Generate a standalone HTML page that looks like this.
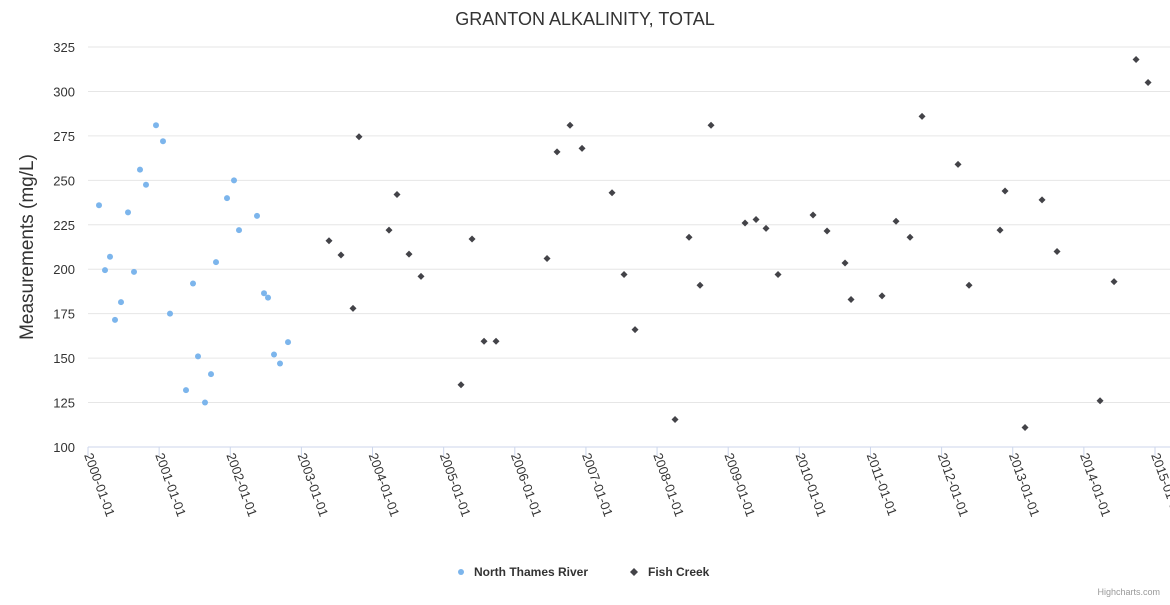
<!DOCTYPE html>
<html><head><meta charset="utf-8"><style>
body{margin:0;background:#fff;font-family:"Liberation Sans","DejaVu Sans",sans-serif}
</style></head><body>
<svg id="c" width="1170" height="600" xmlns="http://www.w3.org/2000/svg">
<text x="585" y="25" text-anchor="middle" font-size="18" fill="#333">GRANTON ALKALINITY, TOTAL</text>
<text transform="translate(33,247) rotate(-90)" text-anchor="middle" font-size="19" fill="#333">Measurements (mg/L)</text>
<g id="grid"></g><g id="xt"></g><g id="marks"></g>
<g>
<g><circle cx="461" cy="572" r="3" fill="#7cb5ec"/><text x="474" y="576" font-size="12" font-weight="bold" fill="#333">North Thames River</text></g>
<g><path d="M634 568 L638 572 L634 576 L630 572Z" fill="#434348"/><text x="648" y="576" font-size="12" font-weight="bold" fill="#333">Fish Creek</text></g>
</g>
<text x="1160" y="595" text-anchor="end" font-size="9" fill="#999">Highcharts.com</text>
</svg>
<script>
const yTicks=[100,125,150,175,200,225,250,275,300,325];
const xTickYears=[2000,2001,2002,2003,2004,2005,2006,2007,2008,2009,2010,2011,2012,2013,2014,2015];
const thamesX=[99,105,110,115,121,128,134,140,146,156,163,170,186,193,198,205,211,216,227,234,239,257,264,268,274,280,288].map(p=>2000+(p-88)/71.13);
const thamesY=[236,199.5,207,171.5,181.5,232,198.5,256,247.5,281,272,175,132,192,151,125,141,204,240,250,222,230,186.5,184,152,147,159];
const fishX=[329,341,353,359,389,397,409,421,461,472,484,496,547,557,570,582,612,624,635,675,689,700,711,745,756,766,778,813,827,845,851,882,896,910,922,958,969,1000,1005,1025,1042,1057,1100,1114,1136,1148].map(p=>2000+(p-88)/71.13);
const fishY=[216,208,178,274.5,222,242,208.5,196,135,217,159.5,159.5,206,266,281,268,243,197,166,115.5,218,191,281,226,228,223,197,230.5,221.5,203.5,183,185,227,218,286,259,191,222,244,111,239,210,126,193,318,305];
const NS="http://www.w3.org/2000/svg";
const L=88,R=1155,T=47,B=447;
const xs=v=>L+(v-2000)/15*(R-L);
const ys=v=>B-(v-100)/225*(B-T);
function mk(t,a,p){const e=document.createElementNS(NS,t);for(const k in a)e.setAttribute(k,a[k]);p.appendChild(e);return e;}
const g=document.getElementById('grid'),xt=document.getElementById('xt'),m=document.getElementById('marks');
yTicks.forEach(v=>{
 const l=mk('line',{x1:L,x2:1170,y1:ys(v),y2:ys(v),stroke:v===100?'#ccd6eb':'#e6e6e6'},g);
 
 
 const t=mk('text',{x:75,y:ys(v)+5,'text-anchor':'end','font-size':13,fill:'#333'},g);
 t.textContent=v;
 
 
});
xTickYears.forEach(y=>{
 const x=xs(y);
 const l=mk('line',{x1:x,x2:x,y1:B,y2:B+10,stroke:'#ccd6eb'},xt);
 
 
 const t=mk('text',{transform:`translate(${x-4},${B+8}) rotate(70)`,'font-size':13,fill:'#333'},xt);
 t.textContent=y+'-01-01';
 
 
});
thamesX.forEach((x,i)=>{
 const c=mk('circle',{cx:xs(x),cy:ys(thamesY[i]),r:3,fill:'#7cb5ec'},m);
 
 
});
fishX.forEach((x,i)=>{
 const cx=xs(x),cy=ys(fishY[i]);
 const p=mk('path',{d:`M${cx} ${cy-3.5}L${cx+3.5} ${cy}L${cx} ${cy+3.5}L${cx-3.5} ${cy}Z`,fill:'#434348'},m);
 
 
});
</script>
</body></html>
